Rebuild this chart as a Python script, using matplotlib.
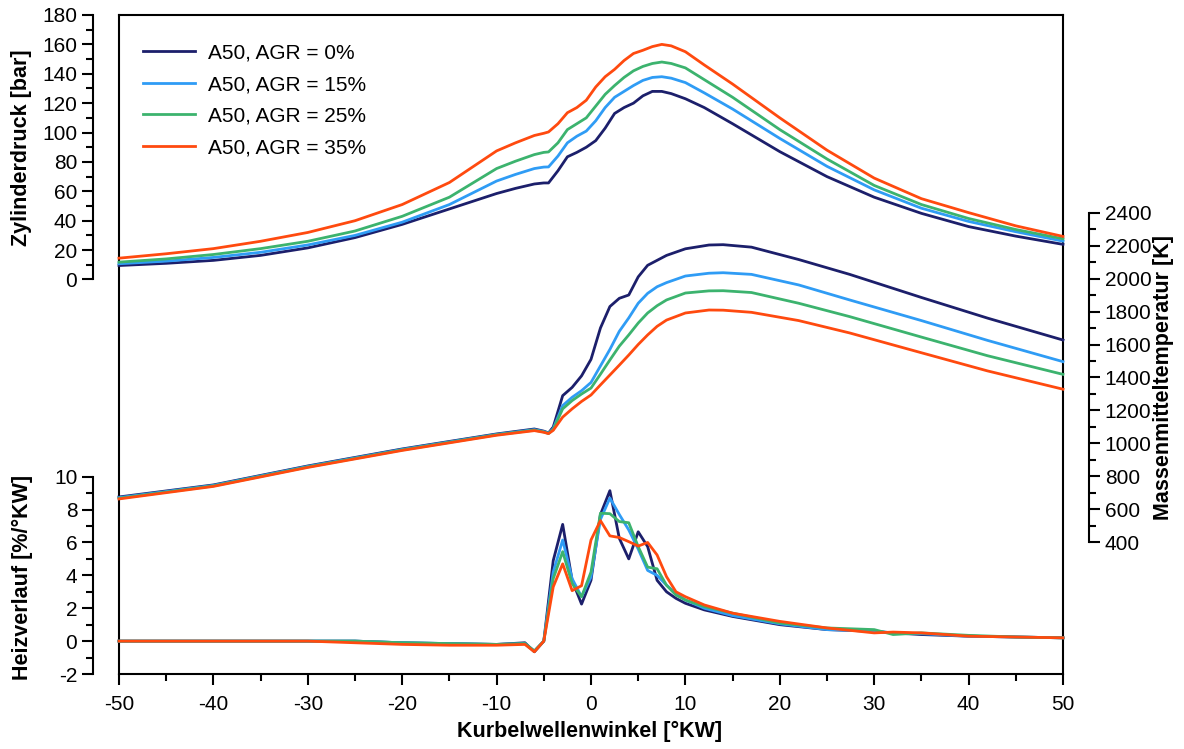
import numpy as np
import matplotlib
matplotlib.use("Agg")
import matplotlib.pyplot as plt
from matplotlib.ticker import MultipleLocator

plt.rcParams['font.family'] = ['Liberation Sans', 'DejaVu Sans']
plt.rcParams['axes.unicode_minus'] = False

labels = ["A50, AGR = 0%", "A50, AGR = 15%", "A50, AGR = 25%", "A50, AGR = 35%"]
colors = ["#1c1f6b", "#2f9cf5", "#3cb36e", "#ff4a0f"]

# Zylinderdruck [bar]
ca_p = [-50, -45, -40, -35, -30, -25, -20, -15, -10, -8, -6, -5, -4.5, -3.5, -2.5, -1.5, -0.5, 0.5, 1.5,
        2.5, 3.5, 4.5, 5.5, 6.5, 7.5, 8.5, 10, 12, 15, 20, 25, 30, 35, 40, 45, 50]
p_agr0 = [9.5, 11, 13, 16.4, 21.5, 28.5, 37.5, 48, 58.5, 62, 65, 65.7, 65.7, 74, 83.5, 86.5, 90, 94.5, 103,
          113, 117, 120, 125, 128, 128, 126.5, 123, 117, 106, 87, 70, 56, 45, 36, 29.5, 23.9]
p_agr15 = [10.7, 12.5, 15, 18.5, 23.5, 30, 39, 51, 67, 71.5, 75.5, 76.5, 76.6, 84, 93, 97.5, 101, 108, 117,
           124, 128, 132, 135.5, 137.5, 138, 137, 134, 127, 116, 96, 77, 61, 48.5, 39.5, 32.5, 26.1]
p_agr25 = [11.8, 14, 17, 21, 26, 33, 43, 56, 75.5, 80.5, 85, 86.5, 86.8, 93, 102, 106, 110, 118, 126,
           132, 137.5, 142, 145, 147, 148, 147, 144, 136, 124, 102, 82, 64, 51, 41.5, 34, 27.7]
p_agr35 = [14.5, 17.5, 21, 26, 32, 40, 51, 66, 87.5, 93, 98, 99.5, 100.4, 106, 113.5, 117, 122, 131, 138,
           143, 149, 153.8, 156, 158.5, 160, 159, 155, 146, 133, 110, 88, 69, 55, 45.5, 36.5, 29.3]

# Massenmitteltemperatur [K]
ca_t = [-50, -40, -30, -20, -10, -6, -5, -4.5, -4, -3, -2, -1, 0, 1, 2, 3, 4, 5, 6, 7, 8, 10, 12.5, 14,
        17, 22, 27.4, 35, 42, 50]
t_agr0 = [676, 749, 864, 967, 1058, 1088, 1075, 1064, 1100, 1290, 1340, 1410, 1510, 1700, 1830, 1880, 1900,
          2010, 2080, 2110, 2140, 2180, 2203, 2205, 2190, 2115, 2025, 1885, 1760, 1627]
t_agr15 = [672, 746, 861, 964, 1055, 1084, 1072, 1062, 1090, 1230, 1280, 1320, 1370, 1470, 1570, 1680, 1761,
           1850, 1910, 1950, 1975, 2015, 2032, 2035, 2025, 1961, 1870, 1745, 1625, 1496]
t_agr25 = [668, 743, 858, 961, 1053, 1081, 1070, 1061, 1085, 1210, 1260, 1300, 1336, 1420, 1506, 1590, 1658,
           1730, 1791, 1835, 1870, 1912, 1925, 1926, 1915, 1850, 1769, 1645, 1532, 1419]
t_agr35 = [664, 740, 855, 958, 1050, 1078, 1068, 1060, 1080, 1160, 1210, 1255, 1294, 1355, 1415, 1475, 1536,
           1600, 1658, 1710, 1748, 1791, 1809, 1808, 1795, 1745, 1670, 1550, 1440, 1329]

# Heizverlauf [%/°KW]
ca_h = [-50, -45, -40, -35, -30, -25, -20, -15, -10, -7, -6, -5, -4, -3, -2, -1, 0, 1, 2, 3, 4, 5, 6, 7,
        8, 9, 10, 12, 15, 20, 25, 30, 32, 35, 40, 45, 50]
h_agr0 = [0, 0, 0, 0, 0, 0, -0.1, -0.15, -0.2, -0.1, -0.65, 0, 4.9, 7.1, 3.7, 2.25, 3.7, 7.7, 9.15, 6.25,
          5.0, 6.65, 5.75, 3.7, 3.0, 2.6, 2.3, 1.9, 1.5, 1.0, 0.7, 0.6, 0.5, 0.4, 0.3, 0.25, 0.2]
h_agr15 = [0, 0, 0, 0, 0, 0, -0.1, -0.15, -0.2, -0.15, -0.6, 0, 4.2, 6.15, 3.8, 2.7, 3.9, 7.4, 8.7, 7.7,
           6.76, 5.6, 4.3, 4.0, 3.4, 2.9, 2.5, 2.0, 1.55, 1.05, 0.7, 0.6, 0.5, 0.45, 0.3, 0.25, 0.2]
h_agr25 = [0, 0, 0, 0, 0, 0, -0.1, -0.15, -0.2, -0.15, -0.6, 0, 3.8, 5.44, 3.5, 2.7, 4.2, 7.78, 7.75, 7.27,
           7.2, 5.75, 4.5, 4.4, 3.4, 2.8, 2.5, 2.1, 1.7, 1.1, 0.8, 0.7, 0.4, 0.5, 0.35, 0.25, 0.2]
h_agr35 = [0, 0, 0, 0, 0, -0.1, -0.2, -0.25, -0.25, -0.2, -0.65, 0, 3.3, 4.7, 3.07, 3.37, 6.15, 7.33, 6.4,
           6.3, 6.05, 5.78, 6.0, 5.24, 3.92, 3.0, 2.7, 2.2, 1.7, 1.2, 0.8, 0.5, 0.55, 0.5, 0.3, 0.25, 0.2]

p_series = [p_agr0, p_agr15, p_agr25, p_agr35]
t_series = [t_agr0, t_agr15, t_agr25, t_agr35]
h_series = [h_agr0, h_agr15, h_agr25, h_agr35]

W, H = 1184, 749
fig = plt.figure(figsize=(W / 100, H / 100), dpi=100)
L, R, T, B = 119, 1063, 15, 674
rect = [L / W, 1 - B / H, (R - L) / W, (B - T) / H]

FS = 15
ax_box = fig.add_axes(rect)
ax_box.set_xlim(-50, 50)
ax_box.set_ylim(0, 1)
ax_box.set_yticks([])
for s in ax_box.spines.values():
    s.set_linewidth(1.5)
ax_box.xaxis.set_major_locator(MultipleLocator(10))
ax_box.xaxis.set_minor_locator(MultipleLocator(5))
ax_box.tick_params(axis='x', which='major', direction='out', length=8, width=1.5, labelsize=FS, pad=7)
ax_box.tick_params(axis='x', which='minor', direction='out', length=5, width=1.5)


def make_ax(ylim, side, bounds, major, minor):
    a = fig.add_axes(rect, sharex=ax_box)
    a.patch.set_visible(False)
    a.set_ylim(*ylim)
    for k, s in a.spines.items():
        s.set_visible(k == side)
    a.spines[side].set_position(('outward', 19))
    a.spines[side].set_bounds(*bounds)
    a.spines[side].set_linewidth(1.5)
    a.yaxis.set_ticks_position(side)
    a.set_yticks([v for v in np.arange(bounds[0], bounds[1] + 0.1 * major, major)])
    a.set_yticks([v for v in np.arange(bounds[0], bounds[1] + 0.1 * minor, minor)], minor=True)
    a.tick_params(axis='y', which='major', direction='out', length=8, width=1.5, labelsize=FS, pad=3)
    a.tick_params(axis='y', which='minor', direction='out', length=5, width=1.5)
    a.tick_params(axis='x', which='both', bottom=False, labelbottom=False)
    return a


ax_p = make_ax((-268.5, 180), 'left', (0, 180), 20, 10)
ax_h = make_ax((-2, 38.08), 'left', (-2, 10), 2, 1)
ax_t = make_ax((-397, 3597), 'right', (400, 2400), 200, 100)

lw = 2.0
for i in range(4):
    ax_t.plot(ca_t, t_series[i], color=colors[i], lw=lw, clip_on=False)
for i in range(4):
    ax_h.plot(ca_h, h_series[i], color=colors[i], lw=lw, clip_on=False)
handles = []
for i in range(4):
    ln, = ax_p.plot(ca_p, p_series[i], color=colors[i], lw=lw, label=labels[i], clip_on=False)
    handles.append(ln)

ax_p.legend(handles=handles, loc='upper left', bbox_to_anchor=(0.006, 0.985), frameon=False,
            fontsize=FS, handlelength=2.5, handletextpad=0.6, labelspacing=0.6)

fig.text(22 / W, 1 - 148 / H, "Zylinderdruck [bar]", rotation=90, ha='center', va='center',
         fontsize=15.5, fontweight='bold')
fig.text(22 / W, 1 - 577 / H, "Heizverlauf [%/°KW]", rotation=90, ha='center', va='center',
         fontsize=15.5, fontweight='bold')
fig.text(1163 / W, 1 - 378 / H, "Massenmitteltemperatur [K]", rotation=90, ha='center', va='center',
         fontsize=15.5, fontweight='bold')
fig.text(590 / W, 1 - 731 / H, "Kurbelwellenwinkel [°KW]", ha='center', va='center',
         fontsize=15.5, fontweight='bold')

fig.savefig("out.png", dpi=100)
